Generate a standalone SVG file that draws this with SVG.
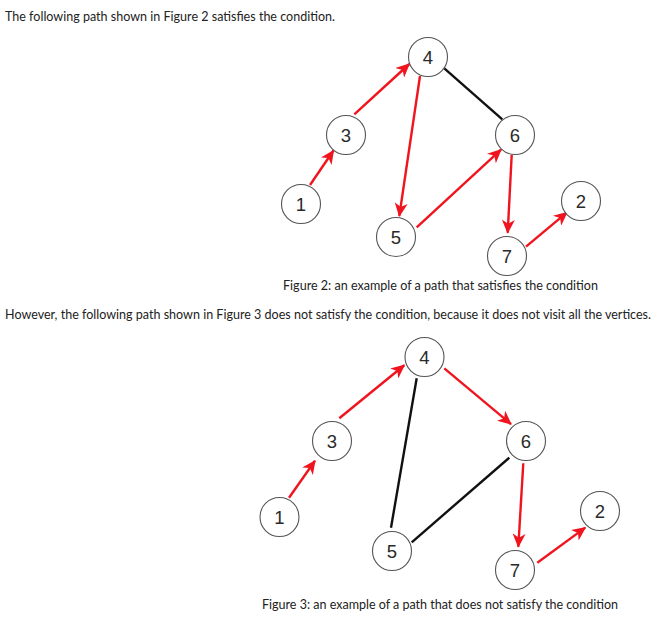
<svg xmlns="http://www.w3.org/2000/svg" width="662" height="621" viewBox="0 0 662 621">
<style>
.t{font-family:Lato,"Liberation Sans",sans-serif;font-size:12.6px;fill:#222}
.n circle{fill:#fff;stroke:#555;stroke-width:1.1}
.n text{font-family:"Liberation Sans",Arial,sans-serif;font-size:18.5px;fill:#2a2a2a;text-anchor:middle}
.r{stroke:#f0141e;stroke-width:2.4;fill:none;marker-end:url(#ah)}
.k{stroke:#111;stroke-width:2.4;fill:none}
</style>
<defs>
<marker id="ah" viewBox="0 0 14 13" refX="13" refY="6.5" markerWidth="14" markerHeight="13" markerUnits="userSpaceOnUse" orient="auto">
<path d="M0,0 L14,6.5 L0,13 L4,6.5 z" fill="#f0141e"/>
</marker>
</defs>
<rect width="662" height="621" fill="#fff"/>
<text class="t" x="5" y="21" textLength="330" lengthAdjust="spacingAndGlyphs">The following path shown in Figure 2 satisfies the condition.</text>
<text class="t" x="283" y="290" textLength="315" lengthAdjust="spacingAndGlyphs">Figure 2: an example of a path that satisfies the condition</text>
<text class="t" x="5" y="319" textLength="646" lengthAdjust="spacingAndGlyphs">However, the following path shown in Figure 3 does not satisfy the condition, because it does not visit all the vertices.</text>
<text class="t" x="262" y="609" textLength="356" lengthAdjust="spacingAndGlyphs">Figure 3: an example of a path that does not satisfy the condition</text>

<g id="edges-fig2">
<line class="k" x1="444.3" y1="68.3" x2="502.3" y2="119.3"/>
<line class="r" x1="310" y1="185" x2="333.5" y2="150.5"/>
<line class="r" x1="354.3" y1="114.3" x2="409.3" y2="64"/>
<line class="r" x1="420" y1="76" x2="399.3" y2="216"/>
<line class="r" x1="416.7" y1="227.3" x2="501" y2="149.7"/>
<line class="r" x1="511.7" y1="155" x2="507.7" y2="232.7"/>
<line class="r" x1="526" y1="246.7" x2="567" y2="212.3"/>
</g>
<g id="f2n1" class="n"><circle cx="301" cy="204" r="19.5"/><text x="301" y="210.5">1</text></g>
<g id="f2n2" class="n"><circle cx="581" cy="201" r="19.5"/><text x="581" y="207.5">2</text></g>
<g id="f2n3" class="n"><circle cx="346" cy="135" r="19.5"/><text x="346" y="141.5">3</text></g>
<g id="f2n4" class="n"><circle cx="428" cy="57" r="19.5"/><text x="428" y="63.5">4</text></g>
<g id="f2n5" class="n"><circle cx="396" cy="237" r="19.5"/><text x="396" y="243.5">5</text></g>
<g id="f2n6" class="n"><circle cx="515" cy="135" r="19.5"/><text x="515" y="141.5">6</text></g>
<g id="f2n7" class="n"><circle cx="507" cy="256" r="19.5"/><text x="507" y="262.5">7</text></g>

<g id="edges-fig3">
<line class="k" x1="416.7" y1="378.3" x2="391" y2="527.7"/>
<line class="k" x1="509.3" y1="457.7" x2="411.7" y2="542.3"/>
<line class="r" x1="289" y1="497.7" x2="315" y2="460.7"/>
<line class="r" x1="339.3" y1="418.3" x2="404.3" y2="365.2"/>
<line class="r" x1="444.3" y1="368.3" x2="511" y2="424.1"/>
<line class="r" x1="523.3" y1="463.3" x2="518.3" y2="546.7"/>
<line class="r" x1="537.3" y1="562.7" x2="585.3" y2="527.6"/>
</g>
<g id="f3n1" class="n"><circle cx="279.5" cy="517" r="19.5"/><text x="279.5" y="523.5">1</text></g>
<g id="f3n2" class="n"><circle cx="600" cy="511" r="19.5"/><text x="600" y="517.5">2</text></g>
<g id="f3n3" class="n"><circle cx="332" cy="441" r="19.5"/><text x="332" y="447.5">3</text></g>
<g id="f3n4" class="n"><circle cx="424.5" cy="357" r="19.5"/><text x="424.5" y="363.5">4</text></g>
<g id="f3n5" class="n"><circle cx="392" cy="551" r="19.5"/><text x="392" y="557.5">5</text></g>
<g id="f3n6" class="n"><circle cx="526" cy="441" r="19.5"/><text x="526" y="447.5">6</text></g>
<g id="f3n7" class="n"><circle cx="515" cy="570" r="19.5"/><text x="515" y="576.5">7</text></g>
</svg>
